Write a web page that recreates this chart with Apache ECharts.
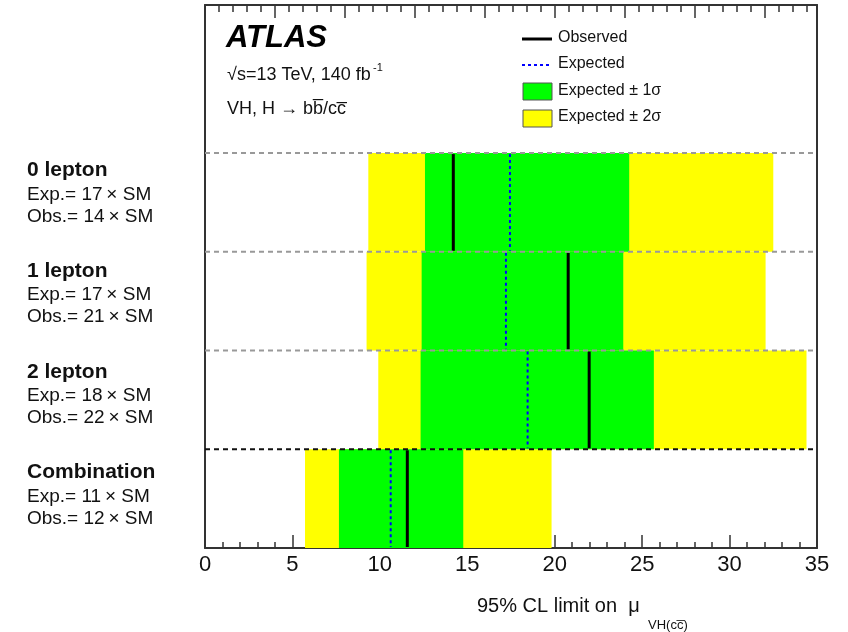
<!DOCTYPE html>
<html>
<head>
<meta charset="utf-8">
<script src="https://cdn.jsdelivr.net/npm/echarts@6/dist/echarts.min.js"></script>
<style>html,body{margin:0;padding:0;background:#fff;}#c{width:848px;height:632px;}</style>
</head>
<body>
<div id="c"></div>
<script>
// rows listed bottom (index 0) to top
const categories = ['Combination', '2 lepton', '1 lepton', '0 lepton'];
const expText = ['11', '18', '17', '17'];
const obsText = ['12', '22', '21', '14'];
const observed = [11.57, 21.97, 20.77, 14.2];
const expected = [10.62, 18.45, 17.21, 17.44];
const band1Lo = [7.66, 12.33, 12.39, 12.58];
const band1Hi = [14.77, 25.67, 23.92, 24.26];
const band2Lo = [5.72, 9.91, 9.24, 9.34];
const band2Hi = [19.82, 34.4, 32.06, 32.5];
const separators = [1, 2, 3, 4];
const xTicks = [0, 5, 10, 15, 20, 25, 30, 35];

const FONT = '"Liberation Sans", Arial, Helvetica, sans-serif';
const chart = echarts.init(document.getElementById('c'), null, {renderer: 'canvas'});

function bandRender(color) {
  return function (params, api) {
    const lo = api.value(0), hi = api.value(1), row = api.value(2);
    const p1 = api.coord([lo, row + 1]);
    const p2 = api.coord([hi, row]);
    return {type: 'rect', shape: {x: p1[0], y: p1[1], width: p2[0] - p1[0], height: p2[1] - p1[1]},
      style: {fill: color}};
  };
}
function vlineRender(stroke, width, dash) {
  return function (params, api) {
    const x = api.value(0), row = api.value(1);
    const a = api.coord([x, row + 1]);
    const b = api.coord([x, row]);
    return {type: 'line', shape: {x1: a[0], y1: a[1] + 1, x2: b[0], y2: b[1] - 1},
      style: {stroke: stroke, lineWidth: width, lineDash: dash}};
  };
}
function sepRender(params, api) {
  const y = api.value(0);
  const a = api.coord([0, y]);
  const b = api.coord([35, y]);
  const black = y === 1;
  return {type: 'line', shape: {x1: a[0], y1: a[1], x2: b[0], y2: b[1]},
    style: {stroke: black ? '#111' : '#999', lineWidth: 2, lineDash: [5, 4]}};
}

const band2Data = categories.map((c, i) => [band2Lo[i], band2Hi[i], i]);
const band1Data = categories.map((c, i) => [band1Lo[i], band1Hi[i], i]);
const obsData = categories.map((c, i) => [observed[i], i]);
const expData = categories.map((c, i) => [expected[i], i]);
const sepData = separators.map(v => [v]);

const option = {
  animation: false,
  backgroundColor: '#fff',
  grid: {left: 205, right: 31, top: 5, bottom: 84, containLabel: false},
  xAxis: [{
    type: 'value', min: 0, max: 35, interval: 5, position: 'bottom',
    axisLine: {show: true, lineStyle: {color: '#333', width: 2}},
    axisTick: {show: true, inside: true, length: 13, lineStyle: {color: '#333', width: 1.5}},
    minorTick: {show: true, splitNumber: 5, length: 6, lineStyle: {color: '#333', width: 1.5}},
    splitLine: {show: false},
    axisLabel: {fontSize: 22, color: '#111', fontFamily: FONT, margin: 6,
      formatter: v => xTicks.indexOf(v) >= 0 ? String(v) : ''}
  }, {
    type: 'value', min: 0, max: 35, interval: 4, position: 'top',
    axisLine: {show: true, onZero: false, lineStyle: {color: '#333', width: 2}},
    axisTick: {show: true, inside: true, length: 13, lineStyle: {color: '#333', width: 1.5}},
    minorTick: {show: true, splitNumber: 5, length: 7, lineStyle: {color: '#333', width: 1.5}},
    splitLine: {show: false},
    axisLabel: {show: false}
  }],
  yAxis: [{
    type: 'value', min: 0, max: 5.5, position: 'left',
    axisLine: {show: true, onZero: false, lineStyle: {color: '#333', width: 2}},
    axisTick: {show: false}, axisLabel: {show: false}, splitLine: {show: false}
  }, {
    type: 'value', min: 0, max: 5.5, position: 'right',
    axisLine: {show: true, onZero: false, lineStyle: {color: '#333', width: 2}},
    axisTick: {show: false}, axisLabel: {show: false}, splitLine: {show: false}
  }],
  series: [
    {name: 'Expected ± 2σ', type: 'custom', renderItem: bandRender('#ffff00'), data: band2Data, z: 1,
      encode: {x: [0, 1], y: 2}},
    {name: 'Expected ± 1σ', type: 'custom', renderItem: bandRender('#00ff00'), data: band1Data, z: 2,
      encode: {x: [0, 1], y: 2}},
    {name: 'Expected', type: 'custom', renderItem: vlineRender('#0000ff', 2, [3, 3]), data: expData, z: 3,
      encode: {x: 0, y: 1}},
    {name: 'Observed', type: 'custom', renderItem: vlineRender('#000000', 3, null), data: obsData, z: 4,
      encode: {x: 0, y: 1}},
    {name: 'sep', type: 'custom', renderItem: sepRender, data: sepData, z: 5, encode: {y: 0}}
  ]
};
chart.setOption(option);

// texts
const g = [];
g.push({type: 'text', left: 226, top: 23, style: {text: 'ATLAS', font: 'italic bold 31px ' + FONT, fill: '#000'}});
g.push({type: 'text', left: 227, top: 66, style: {text: '√s=13 TeV, 140 fb', font: '18px ' + FONT, fill: '#111'}});
g.push({type: 'text', left: 373, top: 62, style: {text: '-1', font: '11px ' + FONT, fill: '#111'}});
g.push({type: 'text', left: 227, top: 100, style: {text: 'VH, H → bb\u0305/cc\u0305', font: '18px ' + FONT, fill: '#111'}});

// legend
g.push({type: 'line', shape: {x1: 522, y1: 39, x2: 552, y2: 39}, style: {stroke: '#000', lineWidth: 3}});
g.push({type: 'line', shape: {x1: 522, y1: 65, x2: 552, y2: 65}, style: {stroke: '#0000ff', lineWidth: 2, lineDash: [3, 3]}});
g.push({type: 'rect', shape: {x: 523, y: 83, width: 29, height: 17}, style: {fill: '#00ff00', stroke: '#555', lineWidth: 1}});
g.push({type: 'rect', shape: {x: 523, y: 110, width: 29, height: 17}, style: {fill: '#ffff00', stroke: '#555', lineWidth: 1}});
const legTexts = ['Observed', 'Expected', 'Expected ± 1σ', 'Expected ± 2σ'];
const legY = [39, 65, 92, 118];
legTexts.forEach((t, i) => {
  g.push({type: 'text', left: 558, top: legY[i] - 9, style: {text: t, font: '16px ' + FONT, fill: '#111'}});
});

// row labels (from top)
for (let k = 0; k < categories.length; k++) {
  const i = categories.length - 1 - k;
  const base = 169 + k * 100.7;
  g.push({type: 'text', left: 27, top: base - 9, style: {text: categories[i], font: 'bold 21px ' + FONT, fill: '#111'}});
  g.push({type: 'text', left: 27, top: base + 16, style: {text: 'Exp.= ' + expText[i] + '\u2009× SM', font: '19px ' + FONT, fill: '#111'}});
  g.push({type: 'text', left: 27, top: base + 38, style: {text: 'Obs.= ' + obsText[i] + '\u2009× SM', font: '19px ' + FONT, fill: '#111'}});
}

// axis title
g.push({type: 'text', left: 477, top: 596, style: {text: '95% CL limit on  μ', font: '20px ' + FONT, fill: '#111'}});
g.push({type: 'text', left: 648, top: 619, style: {text: 'VH(cc\u0305)', font: '13px ' + FONT, fill: '#111'}});

chart.setOption({graphic: g});
</script>
</body>
</html>
